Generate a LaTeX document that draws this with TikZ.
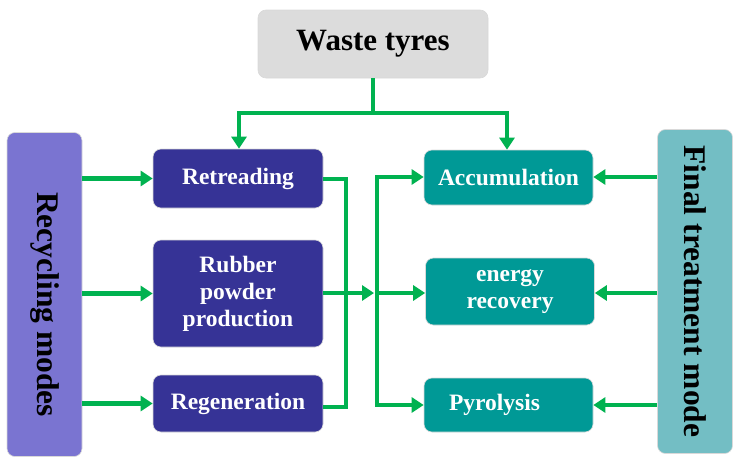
\documentclass[tikz,border=0pt]{standalone}
\usepackage{fontspec}
\setmainfont{Liberation Serif}
\usetikzlibrary{arrows.meta, positioning}
\definecolor{tyregray}{RGB}{220,220,220}
\definecolor{modeblue}{RGB}{54,51,150}
\definecolor{finalteal}{RGB}{0,153,150}
\definecolor{recycpurple}{RGB}{122,116,209}
\definecolor{treatteal}{RGB}{115,190,196}
\definecolor{flowgreen}{RGB}{0,178,80}
\tikzset{
every node/.style={font=\bfseries},
box/.style={rounded corners=8pt, inner sep=0pt, align=center, draw=white!85!black, line width=0.6pt},
modebox/.style={box, fill=modeblue, text=white, font=\fontsize{23.5}{27}\selectfont\bfseries, minimum width=170pt},
finalbox/.style={box, fill=finalteal, text=white, font=\fontsize{23.5}{27}\selectfont\bfseries, minimum width=169pt},
sidebox/.style={box, minimum width=75pt, minimum height=324pt},
sidetext/.style={rotate=-90, font=\fontsize{31.5}{36}\selectfont\bfseries},
flow/.style={draw=flowgreen, line width=4.5pt, -{Triangle[length=12pt,width=15pt]}},
link/.style={draw=flowgreen, line width=4.5pt},
}

\begin{document}
\begin{tikzpicture}[x=1pt,y=-1pt]
    \useasboundingbox (0,0) rectangle (739,463);
    % top
    \node[box, fill=tyregray, minimum width=230pt, minimum height=68pt, font=\fontsize{31}{36}\selectfont\bfseries] (waste) at (373,44) {Waste tyres};
    % side boxes
    \node[sidebox, fill=recycpurple] (recyc) at (44.5,294.5) {};
    \node[sidetext] (recyctext) at ([yshift=-10pt]recyc) {Recycling modes};
    \node[sidebox, fill=treatteal] (treat) at (695,291.5) {};
    \node[sidetext] (treattext) at (treat) {Final treatment mode};
    % recycling modes
    \node[modebox, minimum height=59pt] (retread) at (238,178.5) {Retreading};
    \node[modebox, minimum height=107pt] (rubber) at (238,293.5) {Rubber\\powder\\production};
    \node[modebox, minimum height=57pt] (regen) at (238,403.5) {Regeneration};
    % final treatment
    \node[finalbox, minimum height=55pt] (accum) at (508.5,177.5) {Accumulation};
    \node[finalbox, minimum height=67pt] (energy) at (510,291.5) {energy\\recovery};
    \node[finalbox, minimum height=54pt] (pyro) at (508.5,405) {\hspace*{-28pt}Pyrolysis};
    % waste tyres split
    \coordinate (split) at (373,113);
    \draw[link] (waste.south) -- (split);
    \draw[flow] (split) -| ([xshift=1pt]retread.north);
    \draw[flow] (split) -| ([xshift=-1.5pt]accum.north);
    % recycling modes -> boxes
    \draw[flow] (recyc.east |- retread.west) -- (retread.west);
    \draw[flow] (recyc.east |- rubber.west) -- (rubber.west);
    \draw[flow] (recyc.east |- regen.west) -- (regen.west);
    % collect
    \coordinate (collect) at (346,179);
    \draw[link] (retread.east |- collect) -- (collect) |- ([yshift=-3.5pt]regen.east);
    \coordinate (hub) at (377,293);
    \draw[flow] (rubber.east |- hub) -- ([xshift=-3pt]hub);
    \coordinate (hubtop) at (377,177);
    \coordinate (hubbot) at (377,405);
    \draw[link] ([yshift=-2pt]hubtop) -- ([yshift=2pt]hubbot);
    \draw[flow] ([xshift=-2pt]hubtop) -- (accum.west |- hubtop);
    \draw[flow] (hub) -- (energy.west |- hub);
    \draw[flow] ([xshift=-2pt]hubbot) -- (pyro.west |- hubbot);
    % final treatment -> boxes
    \draw[flow] (treat.west |- hubtop) -- (accum.east |- hubtop);
    \draw[flow] (treat.west |- hub) -- (energy.east |- hub);
    \draw[flow] (treat.west |- hubbot) -- (pyro.east |- hubbot);
\end{tikzpicture}
\end{document}
